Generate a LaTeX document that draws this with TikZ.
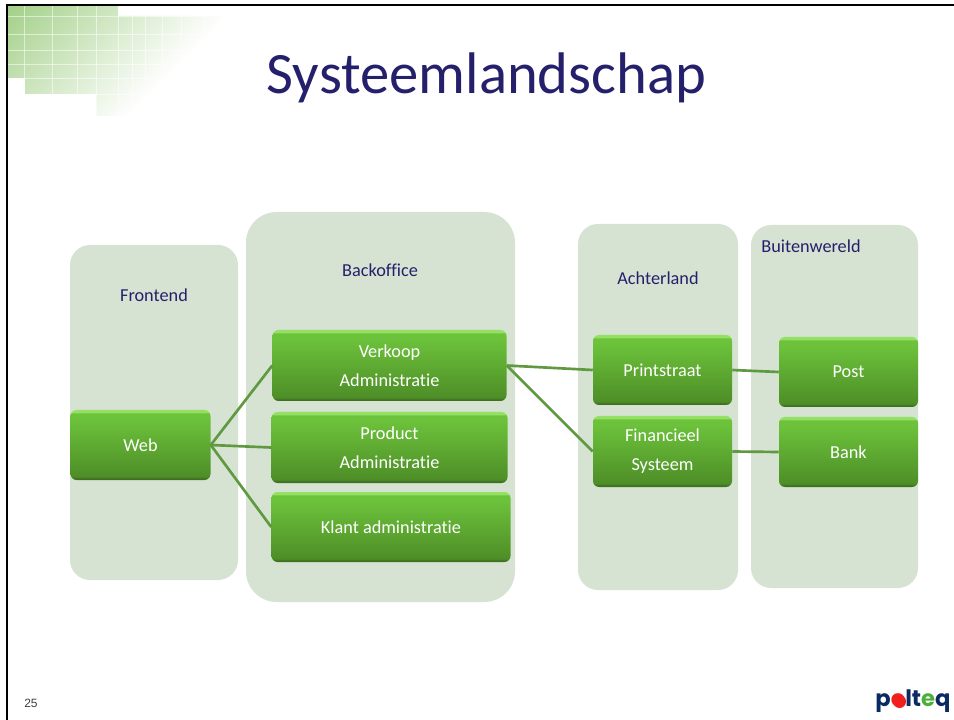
\documentclass[tikz,border=0pt]{standalone}
\usepackage{fontspec}
\setmainfont[RawFeature=-liga]{Carlito}
\newfontfamily\pagefont{Liberation Sans}
\newfontfamily\logofont{Poppins}
\definecolor{panelgreen}{HTML}{D6E3D3}
\definecolor{titleblue}{HTML}{25206B}
\definecolor{barline}{HTML}{5F9940}
\definecolor{tilegreen}{HTML}{A4D08A}
\definecolor{logoblue}{HTML}{0B2A63}
\definecolor{logored}{HTML}{F02020}
\definecolor{logogreen}{HTML}{4CAF3A}
\definecolor{barrim}{HTML}{94E062}
\definecolor{bartop}{HTML}{6CC23B}
\definecolor{barlow}{HTML}{4E8E27}
\definecolor{baredge}{HTML}{3F7020}
\pgfdeclareverticalshading{greenbar}{100bp}{
  color(0bp)=(baredge);
  color(26bp)=(baredge);
  color(27.5bp)=(barlow);
  color(69bp)=(bartop);
  color(72.5bp)=(bartop);
  color(73.5bp)=(barrim);
  color(100bp)=(barrim)}
\pgfdeclareverticalshading{tilefade}{100bp}{
  color(0bp)=(white);
  color(35bp)=(white);
  color(85bp)=(tilegreen);
  color(100bp)=(tilegreen)}
\tikzset{
  panel/.style 2 args={fill=panelgreen, minimum width=#1*0.75pt, minimum height=#2*0.75pt, inner sep=0pt},
  greenbox/.style 2 args={shade, shading=greenbar, rounded corners=4.5pt, minimum width=#1*0.75pt, minimum height=#2*0.75pt, inner sep=0pt, align=center, text=white, font=\fontsize{13.7}{21.75}\selectfont},
  panellabel/.style={text=titleblue, inner sep=0pt, font=\fontsize{13.7}{16}\selectfont},
  link/.style={draw=barline, line width=2pt}
}
\begin{document}
\begin{tikzpicture}[x=0.75pt, y=-0.75pt]
\useasboundingbox (0,0) rectangle (954,720);
% Corner tiles
    \shade[shading=tilefade, shading angle=45]
      (8,6) -- (118,6) -- (118,16) -- (222,16) -- (222,116) -- (96,116) -- (96,94) -- (25,94) -- (25,78) -- (8,78) -- cycle;
    \foreach \tilex in {24,52,77,96,118,132,145,162,181,203}
      \draw[white, opacity=0.55, line width=0.6pt] (\tilex,6) -- (\tilex,116);
    \foreach \tiley in {16,34,50,64,78,94}
      \draw[white, opacity=0.55, line width=0.6pt] (8,\tiley) -- (222,\tiley);
% Frame
    \draw[black, line width=2.2pt] (7,720) -- (7,5) -- (954,5);
% Title
  \node[text=titleblue, inner sep=0pt, font=\fontsize{44}{52}\selectfont] (title) at (486.5,78) {Systeemlandschap};
% Panels
  \node[panel={168}{335}, rounded corners=15pt] (frontend) at (154,412.5) {};
  \node[panel={269}{390}, rounded corners=23pt] (backoffice) at (380.5,407) {};
  \node[panel={160}{366}, rounded corners=15pt] (achterland) at (658,407) {};
  \node[panel={167}{363}, rounded corners=15pt] (buitenwereld) at (834.5,406.5) {};
  \node[panellabel] (frontendlabel) at (154,295) {Frontend};
  \node[panellabel] (backofficelabel) at (380,270) {Backoffice};
  \node[panellabel] (achterlandlabel) at (658,278) {Achterland};
  \node[panellabel] (buitenwereldlabel) at (811,246) {Buitenwereld};
% Boxes
  \node[greenbox={140}{70}] (web) at (140.5,445) {Web};
  \node[greenbox={234}{71}] (verkoop) at (389.5,365.5) {Verkoop\\Administratie};
  \node[greenbox={236}{71}] (product) at (389.5,447.5) {Product\\Administratie};
  \node[greenbox={239}{70}] (klant) at (391,527) {Klant administratie};
  \node[greenbox={139}{70}] (printstraat) at (662.5,370) {Printstraat};
  \node[greenbox={139}{71}] (financieel) at (662.5,451.5) {Financieel\\Systeem};
  \node[greenbox={139}{70}] (post) at (848.5,372) {Post};
  \node[greenbox={139}{70}] (bank) at (848.5,452) {Bank};
% Links
    \draw[link] (web.east) -- (verkoop.west);
    \draw[link] (web.east) -- (product.west);
    \draw[link] (web.east) -- (klant.west);
    \draw[link] (verkoop.east) -- (printstraat.west);
    \draw[link] (verkoop.east) -- (financieel.west);
    \draw[link] (printstraat.east) -- (post.west);
    \draw[link] (financieel.east) -- (bank.west);
% Footer
  \node[inner sep=0pt, font=\pagefont\fontsize{9}{11}\selectfont, text=black!75] (pagenumber) at (31,703) {25};
  \fill[logored] (899.5,701.5) circle (6.5);
  \node[inner sep=0pt, font=\logofont\bfseries\fontsize{17}{20}\selectfont] (logo) at (913,701)
    {\textcolor{logoblue}{p}\textcolor{logored}{o}\textcolor{logoblue}{lt}\textcolor{logogreen}{e}\textcolor{logoblue}{q}};
\end{tikzpicture}
\end{document}
